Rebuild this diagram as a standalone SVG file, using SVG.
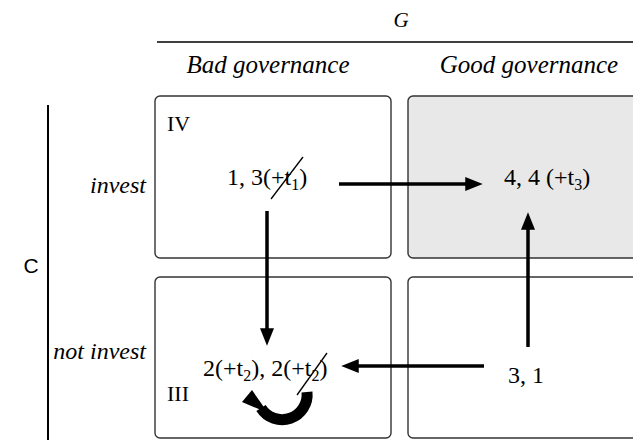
<svg xmlns="http://www.w3.org/2000/svg" width="633" height="440" viewBox="0 0 633 440">
<defs>
<style>
.serif{font-family:"Liberation Serif","Times New Roman",serif;fill:#000}
.it{font-style:italic}
.box{fill:#fff;stroke:#333;stroke-width:1.4}
.shade{fill:#e8e8e8}
.conn{stroke:#000;stroke-width:3.5;fill:none}
.slash{stroke:#000;stroke-width:1.3}
.pay{font-size:24px}
.sub{font-size:16px}
.hdr{font-size:24px}
.top{font-size:25px}
</style>
<marker id="ah" markerWidth="5" markerHeight="4" refX="0.5" refY="2" orient="auto" markerUnits="strokeWidth">
<path d="M0,0 L5,2 L0,4 Z" fill="#000"/>
</marker>
</defs>
<rect width="633" height="440" fill="#fff"/>
<g id="header">
<text class="serif it" x="401" y="27" font-size="21" text-anchor="middle">G</text>
<line x1="157" y1="42" x2="633" y2="42" stroke="#000" stroke-width="1.5"/>
<text class="serif it top" x="268" y="73" text-anchor="middle">Bad governance</text>
<text class="serif it top" x="529" y="73" text-anchor="middle">Good governance</text>
</g>
<g id="rowlabels">
<line x1="48" y1="105" x2="48" y2="440" stroke="#000" stroke-width="2"/>
<text x="31" y="273" font-family="Liberation Sans, Arial, sans-serif" font-size="21" text-anchor="middle">C</text>
<text class="serif it hdr" x="146" y="193" text-anchor="end">invest</text>
<text class="serif it hdr" x="146" y="359" text-anchor="end">not invest</text>
</g>
<g id="cell-IV">
<rect class="box" x="155" y="96" width="236" height="162" rx="5"/>
<text class="serif" x="167" y="131" font-size="22">IV</text>
<text class="serif pay" x="227" y="185">1, 3(+t<tspan class="sub" dy="5">1</tspan><tspan dy="-5">)</tspan></text>
<line class="slash" x1="271" y1="199" x2="303" y2="157"/>
</g>
<g id="cell-I">
<rect class="box shade" x="408" y="96" width="240" height="162" rx="5"/>
<text class="serif pay" x="504" y="185">4, 4 (+t<tspan class="sub" dy="5">3</tspan><tspan dy="-5">)</tspan></text>
</g>
<g id="cell-III">
<rect class="box" x="155" y="277" width="236" height="161" rx="5"/>
<text class="serif" x="167" y="401" font-size="22">III</text>
<text class="serif pay" x="203" y="376">2(+t<tspan class="sub" dy="5">2</tspan><tspan dy="-5">), 2(+t</tspan><tspan class="sub" dy="5">2</tspan><tspan dy="-5">)</tspan></text>
<line class="slash" x1="297" y1="395" x2="327" y2="353"/>
</g>
<g id="cell-II">
<rect class="box" x="408" y="277" width="240" height="161" rx="5"/>
<text class="serif pay" x="508" y="383">3, 1</text>
</g>
<g id="connectors">
<line class="conn" x1="339" y1="184" x2="467" y2="184" marker-end="url(#ah)"/>
<line class="conn" x1="267" y1="211" x2="267" y2="330" marker-end="url(#ah)"/>
<line class="conn" x1="528" y1="347" x2="528" y2="228" marker-end="url(#ah)"/>
<line class="conn" x1="484" y1="366" x2="357" y2="366" marker-end="url(#ah)"/>
<path d="M307,392 A25,25 0 0 1 261,408" stroke="#000" stroke-width="11" fill="none"/>
<path d="M242,402 L252,390 L268,413 Z" fill="#000"/>
</g>
</svg>
